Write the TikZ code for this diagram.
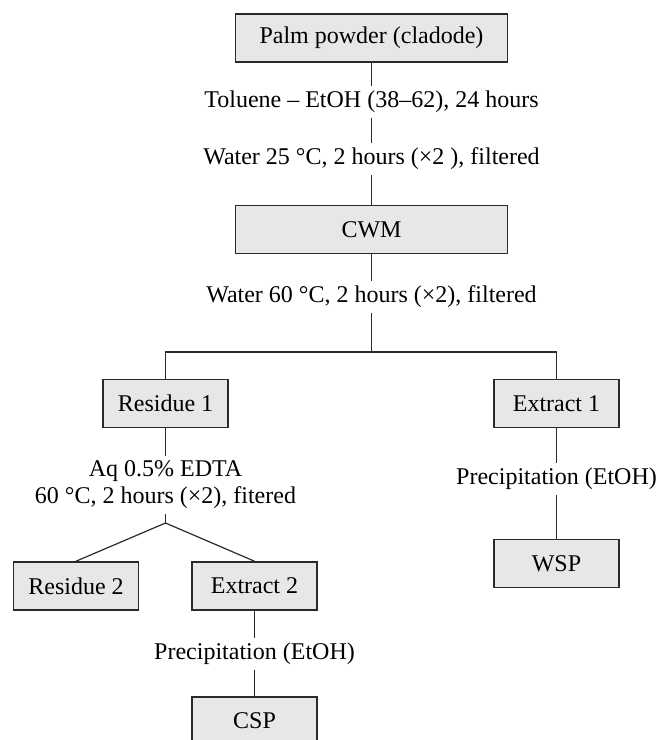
\documentclass[tikz,border=0pt]{standalone}
\usepackage{fontspec}
\setmainfont{Liberation Serif}
\definecolor{boxgray}{HTML}{E6E7E8}
\definecolor{linegray}{HTML}{2A2A2A}
\begin{document}
\begin{tikzpicture}[x=0.5pt, y=-0.5pt,
    stagebox/.style={draw=linegray, fill=boxgray, line width=0.8pt, inner sep=0pt, font=\fontsize{12}{13.5}\selectfont},
    bigbox/.style={stagebox, minimum width=136pt, minimum height=24pt},
    smallbox/.style={stagebox, minimum width=62.5pt, minimum height=24pt},
    steplabel/.style={inner sep=2.5pt, align=center, font=\fontsize{12}{13.5}\selectfont},
    link/.style={draw=linegray, line width=0.6pt}]
% Fix the page size
\useasboundingbox (0, 0) rectangle (659, 740);

% Top part: powder to cell wall material
\node[bigbox] (palm) at (371.5, 38) {Palm powder (cladode)};
\node[steplabel] (toluene) at (371.5, 102) {Toluene -- EtOH (38--62), 24 hours};
\node[steplabel] (water25) at (371.5, 159) {Water 25 °C, 2 hours (×2 ), filtered};
\node[bigbox] (cwm) at (371.5, 229.5) {CWM};
\node[steplabel] (water60) at (371.5, 297) {Water 60 °C, 2 hours (×2), filtered};
\draw[link] (palm) -- (toluene) -- (water25) -- (cwm) -- (water60);

% Split into residue and extract
\coordinate (split) at (371.5, 352);
\node[smallbox] (residue1) at (165.5, 403.5) {Residue 1};
\node[smallbox] (extract1) at (556.5, 403.5) {Extract 1};
\draw[link] (water60) -- (split);
\draw[link] (residue1.north) |- (split) -| (extract1.north);

% Left branch
\node[steplabel] (edta) at (165.5, 485) {Aq 0.5\% EDTA\\60 °C, 2 hours (×2), fitered};
\coordinate (fork) at (165.5, 523);
\node[smallbox] (residue2) at (76, 586) {Residue 2};
\node[smallbox] (extract2) at (254.5, 586) {Extract 2};
\draw[link] (residue1) -- (edta) -- (fork);
\draw[link] (residue2.north) -- (fork) -- (extract2.north);
\node[steplabel] (precip2) at (254.5, 654) {Precipitation (EtOH)};
\node[smallbox] (csp) at (254.5, 721) {CSP};
\draw[link] (extract2) -- (precip2) -- (csp);

% Right branch
\node[steplabel] (precip1) at (556.5, 479) {Precipitation (EtOH)};
\node[smallbox] (wsp) at (556.5, 563.5) {WSP};
\draw[link] (extract1) -- (precip1) -- (wsp);
\end{tikzpicture}
\end{document}
